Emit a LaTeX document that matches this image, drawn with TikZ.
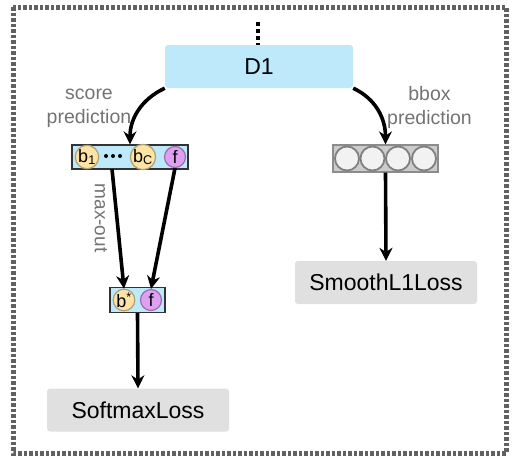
\documentclass[tikz,border=0pt]{standalone}
\usepackage{fontspec}
\setmainfont{Liberation Sans}
\usetikzlibrary{arrows.meta}
\definecolor{dblue}{HTML}{BDE9FB}
\definecolor{lgray}{HTML}{E0E0E0}
\definecolor{byellow}{HTML}{FCE3A6}
\definecolor{fpurple}{HTML}{DFA0F2}
\tikzset{
  box/.style={rounded corners=3pt, minimum width=#1, minimum height=43pt, inner sep=0pt, font=\fontsize{23}{26}\selectfont},
  row/.style={draw=black!80, line width=1.3pt, fill=dblue, minimum height=24pt, inner sep=0pt},
  ball/.style={circle, draw=#1!70!black, fill=#1, line width=1.2pt, minimum size=21pt, inner sep=0pt, font=\fontsize{18}{18}\selectfont},
  lbl/.style={text=black!55, align=center, font=\fontsize{19.5}{24}\selectfont},
  flow/.style={line width=3.6pt, -{Stealth[length=13pt, width=13pt]}},
}
\begin{document}
\begin{tikzpicture}[x=1pt, y=-1pt]
\useasboundingbox (0,0) rectangle (516,466);
\draw[black!62, line width=5pt, dash pattern=on 3.5pt off 2pt] (13,7) rectangle (506,453);

% top block
\node[box=188pt, fill=dblue] (d1) at (259,66.5) {D1};
\coordinate (up) at (258,22);
\draw[line width=4.5pt, dash pattern=on 4pt off 3pt] (up) -- (d1.north -| up);

% score branch
\node[row, minimum width=116pt] (score) at (130,157) {};
\node[ball=byellow] (b1) at (87,157) {b\textsubscript{1}};
\node[ball=byellow] (bc) at (143,157) {b\textsubscript{C}};
\node[ball=fpurple] (f1) at (175,157) {f};
\foreach \xx in {106,113,120}
  \fill (\xx,156) circle (2pt);
\node[lbl] (slbl) at (89,108) {score\\prediction};

\node[row, minimum width=55pt, minimum height=25pt] (maxrow) at (137.5,300) {};
\node[ball=byellow] (bs) at (124,300) {b\textsuperscript{*}};
\node[ball=fpurple] (f2) at (151,300) {f};
\coordinate (sl) at (112,169);
\draw[flow] (sl) -- (bs.north);
\draw[flow] (f1.south) -- (f2.north);
\node[lbl, rotate=-90, font=\fontsize{19}{20}\selectfont] (mlbl) at (101,218) {max-out};

\node[box=182pt, fill=lgray] (soft) at (138,410) {SoftmaxLoss};
\draw[flow] (maxrow.south) -- (soft.north);

% bbox branch
\node[row, draw=black!45, fill=black!20, minimum width=105pt, minimum height=27pt] (bbox) at (385.5,158.5) {};
\foreach \i/\xx in {1/347,2/372.5,3/398,4/424}
  \node[circle, draw=black!50, fill=black!5, line width=1.8pt, minimum size=24pt, inner sep=0pt] (c\i) at (\xx,158.5) {};
\node[lbl] (blbl) at (429.5,107) {bbox\\prediction};

\node[box=182pt, fill=lgray] (smooth) at (386,282.5) {SmoothL1Loss};
\draw[flow] (bbox.south) -- (smooth.north);

% arrows out of D1
\draw[flow] (d1.south west) to[out=205, in=90] (score.north);
\draw[flow] (d1.south east) to[out=-25, in=90] (bbox.north);
\end{tikzpicture}
\end{document}
